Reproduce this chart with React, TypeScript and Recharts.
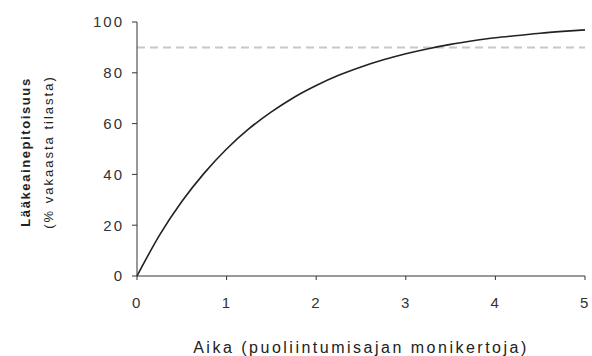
import React from 'react';
import { LineChart, Line, XAxis, YAxis, ReferenceLine, Label } from 'recharts';

// time in half-lives and concentration (% of steady state)
const halfLives = [0, 0.25, 0.5, 0.75, 1, 1.25, 1.5, 1.75, 2, 2.25, 2.5, 2.75, 3, 3.25, 3.5, 3.75, 4, 4.25, 4.5, 4.75, 5];
const concentration = [0, 16, 29.3, 40.5, 50, 58, 64.6, 70.3, 75, 79, 82.3, 85.1, 87.5, 89.5, 91.2, 92.6, 93.8, 94.7, 95.6, 96.3, 96.9];
const xTicks = [0, 1, 2, 3, 4, 5];
const yTicks = [0, 20, 40, 60, 80, 100];
const steadyLimit = 90;

const data = halfLives.map((t, i) => ({ t, c: concentration[i] }));

const font = '"Liberation Sans", Arial, sans-serif';

const YTitle = (props: any) => {
  const vb = props.viewBox || {};
  const cy = (vb.y ?? 0) + (vb.height ?? 0) / 2 + 3;
  return (
    <g fontFamily={font} fill="#222">
      <text x={25} y={cy} transform={`rotate(-90 25 ${cy})`} textAnchor="middle" fontSize={13} fontWeight="bold" dominantBaseline="central" letterSpacing={1.6}>
        Lääkeainepitoisuus
      </text>
      <text x={48} y={cy} transform={`rotate(-90 48 ${cy})`} textAnchor="middle" fontSize={13} dominantBaseline="central" letterSpacing={2}>
        (% vakaasta tilasta)
      </text>
    </g>
  );
};

export default function App() {
  return (
    <div style={{ position: 'fixed', left: 0, top: 0, width: 592, height: 356, background: '#fff' }}>
      <LineChart width={592} height={356} data={data} margin={{ top: 22, right: 7, bottom: 50, left: 97 }}>
        <XAxis
          dataKey="t"
          type="number"
          domain={[0, 5]}
          ticks={xTicks}
          stroke="#333"
          tickSize={4}
          tickMargin={17}
          height={30}
          tick={{ fill: '#333', fontSize: 15, fontFamily: font, letterSpacing: 1.5 }}
        >
          <Label
            value="Aika (puoliintumisajan monikertoja)"
            position="insideBottom"
            offset={-47}
            style={{ fill: '#222', fontSize: 16, fontFamily: font, letterSpacing: 2.5 }}
          />
        </XAxis>
        <YAxis
          type="number"
          domain={[0, 100]}
          ticks={yTicks}
          stroke="#333"
          width={40}
          tickSize={5}
          tickMargin={8}
          tick={{ fill: '#333', fontSize: 15, fontFamily: font, letterSpacing: 2 }}
        >
          <Label content={YTitle} />
        </YAxis>
        <ReferenceLine y={steadyLimit} stroke="#c8c8c8" strokeWidth={2} strokeDasharray="8 5" ifOverflow="extendDomain" />
        <Line type="monotone" dataKey="c" stroke="#222" strokeWidth={1.6} dot={false} isAnimationActive={false} />
      </LineChart>
    </div>
  );
}
